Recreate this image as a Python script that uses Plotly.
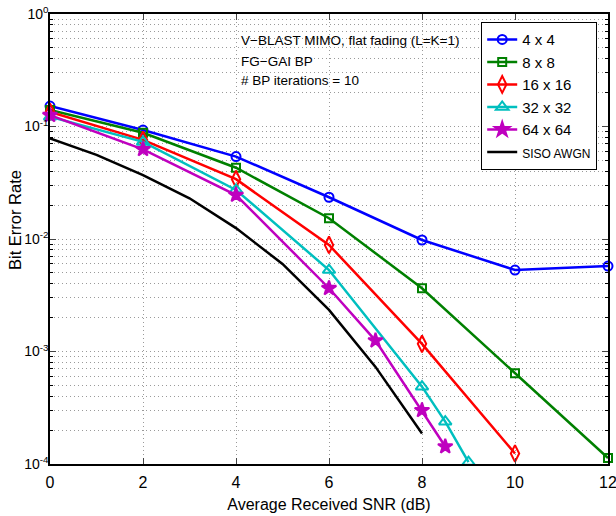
import plotly.graph_objects as go

snr_4 = [0, 2, 4, 6, 8, 10, 12]
ber_4 = [0.152, 0.093, 0.054, 0.0235, 0.0098, 0.0053, 0.00575]
snr_8 = [0, 2, 4, 6, 8, 10, 12]
ber_8 = [0.140, 0.088, 0.043, 0.0153, 0.00365, 0.00064, 0.000113]
snr_16 = [0, 2, 4, 6, 8, 10]
ber_16 = [0.135, 0.076, 0.034, 0.00885, 0.00117, 0.000124]
snr_32 = [0, 2, 4, 6, 8, 8.5, 9]
ber_32 = [0.122, 0.073, 0.0273, 0.0053, 0.000487, 0.000238, 0.000104]
snr_64 = [0, 2, 4, 6, 7, 8, 8.5]
ber_64 = [0.126, 0.0627, 0.0246, 0.00365, 0.00125, 0.00030, 0.000143]
snr_siso = [0, 1, 2, 3, 4, 5, 6, 7, 8]
ber_siso = [0.0785, 0.056, 0.037, 0.023, 0.0125, 0.0060, 0.00234, 0.00073, 0.000187]

x_ticks = [0, 2, 4, 6, 8, 10, 12]
y_ticks = [1e-4, 1e-3, 1e-2, 1e-1, 1]
y_ticktext = ["10<sup>-4</sup>", "10<sup>-3</sup>", "10<sup>-2</sup>",
              "10<sup>-1</sup>", "10<sup>0</sup>"]
minor_vals = [m * 10.0 ** e for e in range(-4, 0) for m in range(2, 10)]

FONT = "Liberation Sans, Arial, sans-serif"
GRID = "#9a9a9a"
DOTS = "1px,3px"

series = [
    ("4 x 4", snr_4, ber_4, "#0000FF", "circle-open", 9),
    ("8 x 8", snr_8, ber_8, "#008000", "square-open", 8),
    ("16 x 16", snr_16, ber_16, "#FF0000", "diamond-tall-open", 12),
    ("32 x 32", snr_32, ber_32, "#00BFBF", "triangle-up-open", 11),
    ("64 x 64", snr_64, ber_64, "#BF00BF", "star", 11),
]

fig = go.Figure()
for name, x, y, c, sym, sz in series:
    fig.add_trace(go.Scatter(
        x=x, y=y, name=name, mode="lines+markers",
        line=dict(color=c, width=2.5),
        marker=dict(symbol=sym, size=sz, color=c, line=dict(color=c, width=2)),
        cliponaxis=False,
    ))
fig.add_trace(go.Scatter(
    x=snr_siso, y=ber_siso,
    name="<span style='font-size:12px'>SISO AWGN</span>", mode="lines",
    line=dict(color="black", width=2.5),
))

W, H = 616, 516
L, R, T, B = 50, 608, 14, 464          # plot area in window pixels


def px(xw):
    return (xw - L) / (R - L)


def py(yw):
    return (B - yw) / (B - T)


fig.update_layout(
    width=W, height=H,
    margin=dict(l=L, r=W - R, t=T, b=H - B),
    paper_bgcolor="white", plot_bgcolor="white",
    font=dict(family=FONT, size=15, color="black"),
    showlegend=True,
    legend=dict(
        x=px(597), y=py(22), xanchor="right", yanchor="top",
        bgcolor="white", bordercolor="black", borderwidth=1.2,
        font=dict(family=FONT, size=15, color="black"),
        tracegroupgap=0, itemwidth=30,
    ),
)
fig.update_xaxes(
    range=[0, 12], tickvals=x_ticks, ticks="inside", ticklen=6, tickwidth=1.2,
    showline=True, linecolor="black", linewidth=1.5, mirror="ticks",
    showgrid=True, gridcolor=GRID, griddash=DOTS, gridwidth=1,
    zeroline=False, tickfont=dict(size=16), automargin=False,
    ticklabelstandoff=3, ticklabeloverflow="allow",
    title=dict(text="Average Received SNR (dB)", font=dict(size=16), standoff=9),
)
fig.update_yaxes(
    type="log", range=[-4, 0], tickvals=y_ticks, ticktext=y_ticktext,
    ticks="inside", ticklen=6, tickwidth=1.2,
    showline=True, linecolor="black", linewidth=1.5, mirror="ticks",
    showgrid=True, gridcolor=GRID, griddash=DOTS, gridwidth=1,
    zeroline=False, tickfont=dict(size=14), automargin=False,
    ticklabelstandoff=-3, ticklabeloverflow="allow",
    minor=dict(tickvals=minor_vals, ticks="inside", ticklen=3, tickcolor="black",
               showgrid=True, gridcolor=GRID, griddash=DOTS, gridwidth=1),
)

fig.add_annotation(
    text="Bit Error Rate", textangle=-90, xref="paper", yref="paper",
    x=px(15), y=py(220), xanchor="center", yanchor="middle", showarrow=False,
    font=dict(family=FONT, size=16.5, color="black"),
)

notes = ["V\u2212BLAST MIMO, flat fading (L=K=1)", "FG\u2212GAI BP", "# BP iterations = 10"]
note_y = [40, 61, 81]
for t, yy in zip(notes, note_y):
    fig.add_annotation(
        text=t, xref="paper", yref="paper",
        x=px(239), y=py(yy),
        xanchor="left", yanchor="middle", showarrow=False,
        font=dict(family=FONT, size=13.5, color="black"),
    )

# remove the default 8px page margin so the figure fills the window exactly
fig.write_html("out.html", config={"displayModeBar": False},
               post_script="document.body.style.margin='0';")
